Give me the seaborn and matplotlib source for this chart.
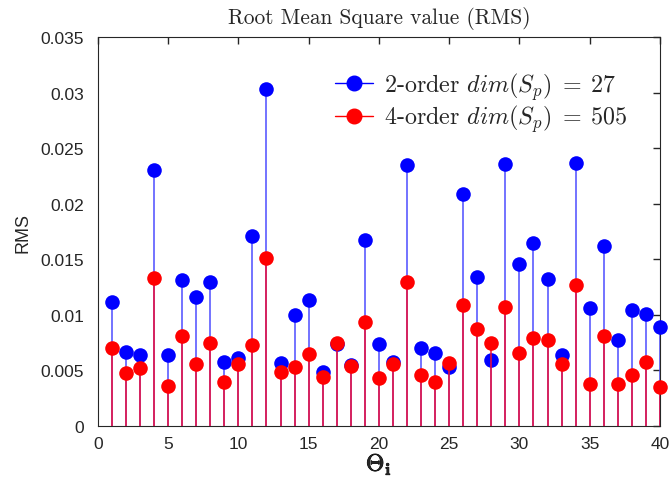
import numpy as np
import pandas as pd
import matplotlib
matplotlib.use("Agg")
import matplotlib.pyplot as plt
import matplotlib.patheffects as pe
import seaborn as sns
from matplotlib.lines import Line2D

theta = list(range(1, 41))
rms_2order = [0.0112, 0.0067, 0.0064, 0.0230, 0.0064, 0.0131, 0.0116, 0.0130, 0.0058, 0.0061,
              0.0171, 0.0303, 0.0057, 0.0100, 0.0113, 0.0049, 0.0074, 0.0055, 0.0167, 0.0074,
              0.0058, 0.0235, 0.0070, 0.0066, 0.0053, 0.0209, 0.0134, 0.0059, 0.0236, 0.0146,
              0.0165, 0.0132, 0.0064, 0.0237, 0.0106, 0.0162, 0.0077, 0.0104, 0.0101, 0.0089]
rms_4order = [0.0070, 0.0048, 0.0052, 0.0133, 0.0036, 0.0081, 0.0056, 0.0075, 0.0040, 0.0056,
              0.0073, 0.0151, 0.0049, 0.0053, 0.0065, 0.0044, 0.0075, 0.0054, 0.0094, 0.0043,
              0.0056, 0.0130, 0.0046, 0.0040, 0.0057, 0.0109, 0.0087, 0.0075, 0.0107, 0.0066,
              0.0079, 0.0077, 0.0056, 0.0127, 0.0038, 0.0081, 0.0038, 0.0046, 0.0058, 0.0035]
label_2 = r"2-order $dim(S_p) \;=\; 27$"
label_4 = r"4-order $dim(S_p) \;=\; 505$"
title = "Root Mean Square value (RMS)"
xticks = [0, 5, 10, 15, 20, 25, 30, 35, 40]
yticks = [0, 0.005, 0.01, 0.015, 0.02, 0.025, 0.03, 0.035]
ytick_labels = ["0", "0.005", "0.01", "0.015", "0.02", "0.025", "0.03", "0.035"]

df2 = pd.DataFrame({"theta": theta, "rms": rms_2order})
df4 = pd.DataFrame({"theta": theta, "rms": rms_4order})

sns.set_theme(style="white")
plt.rcParams["font.family"] = ["Liberation Sans", "DejaVu Sans"]
plt.rcParams["mathtext.fontset"] = "cm"

fig = plt.figure(figsize=(6.7, 4.85), dpi=100)
ax = fig.add_axes([0.146, 0.1196, 0.839, 0.802])

blue_stem = (0.3, 0.3, 1.0)
red_stem = (0.95, 0.05, 0.2)
ax.vlines(df2["theta"], 0, df2["rms"], color=blue_stem, linewidth=1.1, zorder=2)
sns.scatterplot(data=df2, x="theta", y="rms", color="#0000ff", s=110, linewidth=0, ax=ax,
                zorder=3, clip_on=False)
ax.vlines(df4["theta"], 0, df4["rms"], color=red_stem, linewidth=1.1, zorder=4)
sns.scatterplot(data=df4, x="theta", y="rms", color="#ff0000", s=110, linewidth=0, ax=ax,
                zorder=5, clip_on=False)

ax.set_xlim(0, 40)
ax.set_ylim(0, 0.035)
ax.set_xticks(xticks)
ax.set_xticklabels([str(t) for t in xticks])
ax.set_yticks(yticks)
ax.set_yticklabels(ytick_labels)
ax.tick_params(direction="in", length=5, width=1, colors="#262626", labelsize=12.5,
               top=True, right=True, labelcolor="#262626")
ax.tick_params(axis="y", pad=10)
ax.tick_params(axis="x", pad=7)
for sp in ax.spines.values():
    sp.set_color("#262626")
    sp.set_linewidth(0.8)

xl = ax.set_xlabel(r"$\mathbf{\Theta_i}$", fontsize=17, labelpad=0)
xl.set_path_effects([pe.withStroke(linewidth=0.6, foreground="black")])
ax.set_ylabel("RMS", fontsize=13, color="#262626", labelpad=6)
ax.set_title(title, fontsize=15.4, family="cmr10", pad=10)

handles = [Line2D([0, 1], [0, 0], color="#0000ff", lw=1, marker="o", markersize=10.5, markevery=[1]),
           Line2D([0, 1], [0, 0], color="#ff0000", lw=1, marker="o", markersize=10.5, markevery=[1])]
leg = ax.legend(handles, [label_2, label_4], loc="upper left", frameon=False,
                fontsize=17.3, handlelength=1.6, handletextpad=0.45, borderaxespad=0.0,
                borderpad=0.0, labelspacing=0.05, bbox_to_anchor=(0.422, 0.915))
for t in leg.get_texts():
    t.set_family("cmr10")

fig.savefig("out.png", dpi=100)
